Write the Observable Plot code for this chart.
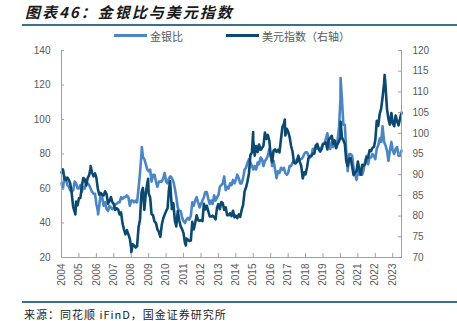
<!DOCTYPE html>
<html><head><meta charset="utf-8">
<script src="https://cdn.jsdelivr.net/npm/d3@7"></script>
<script src="https://cdn.jsdelivr.net/npm/@observablehq/plot@0.6"></script>
<style>
body{margin:0;background:#fff;}
#wrap{position:relative;width:457px;height:321px;overflow:hidden;}
#title{position:absolute;left:25px;top:3px;font:italic bold 15px "Noto Sans CJK SC";line-height:17px;letter-spacing:2px;color:#1a1a1a;white-space:nowrap;}
.hline{position:absolute;left:22px;right:0;height:2px;background:#3b6f8e;}
.leg{position:absolute;top:29px;font:11px "Noto Sans CJK SC";line-height:14px;color:#595959;white-space:nowrap;}
.sw{position:absolute;height:3px;top:34px;}
#src{position:absolute;left:24px;top:307px;font:11px "Noto Sans CJK SC";line-height:14px;letter-spacing:1px;color:#222;white-space:nowrap;}
svg{position:absolute;left:0;top:0;}
</style></head>
<body><div id="wrap">
<div id="title">图表46：金银比与美元指数</div>
<div class="hline" style="top:24px"></div>
<div class="sw" style="left:114px;width:33px;background:#4a85c5"></div>
<div class="leg" style="left:150px">金银比</div>
<div class="sw" style="left:226px;width:33px;background:#0b4970"></div>
<div class="leg" style="left:262px">美元指数（右轴）</div>
<div class="hline" style="top:301px"></div>
<div id="src">来源：同花顺 iFinD，国金证券研究所</div>
</div>
<script>
// monthly values, Mar 2004 .. Sep 2023
const goldSilver = [
63,60,67,66,62,61,59,58,59,64,
63,60,60,62,58,61,60,63,63,62,60,58,
57,57,51,47,50,57,55,50,52,48,47,50,
49,48,49,51,51,52,52,55,54,55,55,56,
55,50,53,53,52,53,52,60,69,80,78,77,
74,71,70,71,64,68,68,64,61,64,64,64,
66,69,64,63,66,67,66,64,60,55,49,47,
47,43,41,40,42,43,42,44,52,50,53,55,
52,49,51,53,55,58,58,54,51,53,51,56,
53,55,56,61,62,63,67,59,61,60,63,62,
65,63,65,68,66,63,63,66,71,72,75,77,
75,73,71,73,71,75,74,78,77,73,76,77,
79,83,80,73,76,71,66,70,69,72,71,72,
69,68,69,73,73,75,76,75,77,76,77,77,
78,80,81,81,79,78,79,83,83,83,86,83,
82,84,86,86,89,92,86,83,87,84,86,85,
88,96,112,112,97,97,81,70,80,80,79,72,
69,65,70,68,68,68,71,76,79,74,78,78,
80,79,77,83,85,89,87,96,87,85,82,76,
82,87,82,80,83,84,79,79,82
];
const dollarIndex = [
90.5,91.3,89.0,88.7,89.3,88.8,87.8,85.5,82.2,81.0,
83.5,82.6,84.3,84.4,87.2,89.2,88.9,87.4,89.2,89.9,91.6,90.5,
89.6,90.3,89.3,86.6,85.2,85.6,85.1,85.0,86.0,85.3,83.0,83.6,
84.6,83.3,82.9,81.5,81.9,81.6,80.4,80.9,78.2,76.8,75.6,76.6,
75.6,74.5,72.2,73.2,72.9,72.4,72.7,77.3,79.2,85.6,86.8,81.5,
85.6,88.0,85.5,84.5,80.5,80.2,78.7,78.3,76.8,76.2,75.0,77.9,
79.5,80.4,81.2,81.9,86.5,87.0,81.7,83.1,78.9,77.5,81.2,79.0,
77.5,76.8,75.9,73.5,74.6,74.3,74.0,74.1,78.6,76.8,78.4,80.2,
79.0,78.9,79.0,78.8,83.0,81.6,82.5,81.2,79.9,79.9,80.1,79.8,
79.2,82.1,82.9,81.7,83.4,83.1,81.5,82.1,80.2,80.2,80.7,80.0,
81.3,79.7,80.1,79.5,80.4,79.8,81.5,82.7,86.0,86.9,88.4,90.3,
94.8,95.3,98.4,94.6,96.9,95.5,97.3,96.0,96.4,97.0,100.2,98.6,
99.6,98.2,94.6,93.1,95.9,96.1,95.5,96.0,95.4,98.5,101.5,102.2,
99.5,101.1,100.4,99.1,97.0,95.6,92.9,92.7,93.1,94.6,93.1,92.1,
89.1,90.6,90.1,91.8,94.0,94.5,94.5,95.1,95.1,97.1,97.3,96.2,
95.6,96.2,97.3,97.5,97.8,96.1,98.5,98.9,99.4,97.4,98.3,96.4,
97.4,98.1,99.0,99.0,98.3,97.4,93.3,92.1,93.9,94.0,91.9,89.9,
90.6,90.9,93.2,91.3,90.0,92.4,92.2,92.6,94.2,94.1,95.9,95.7,
96.5,96.7,98.3,103.0,101.8,104.7,105.9,108.7,112.1,111.5,105.9,103.5,
102.1,104.9,102.5,101.7,104.3,102.9,101.9,103.6,105.0
];
// daily extremes
const gsPeakDates = ["2006-04-20","2008-10-24","2020-03-18"];
const gsPeaks = [45,84,124];
const dxPeakDates = ["2004-12-30","2005-11-15","2008-03-17","2009-03-04","2010-06-07","2011-05-04","2015-03-13","2017-01-03","2020-03-19","2022-09-27"];
const dxPeaks = [80.4,92.1,71.3,89.0,88.4,72.9,100.3,103.3,102.8,114.1];
const leftTicks = [20,40,60,80,100,120,140];
const rightTicks = [70,75,80,85,90,95,100,105,110,115,120];
const yearLabels = d3.range(2004, 2024);

const LIGHT = "#4a85c5", DARK = "#0b4970", AX = "#a0a0a0";
const months = d3.utcMonth.range(new Date(Date.UTC(2004,2,1)), new Date(Date.UTC(2023,9,1))).map(d => d3.utcDay.offset(d, 14));
const byDate = (a,b) => a.date - b.date;
const gs = months.map((d,i)=>({date:d, v:goldSilver[i]}))
  .concat(gsPeakDates.map((d,i)=>({date:new Date(d), v:gsPeaks[i]}))).filter(d=>d.v!=null).sort(byDate);
const dx = months.map((d,i)=>({date:d, v:dollarIndex[i]}))
  .concat(dxPeakDates.map((d,i)=>({date:new Date(d), v:dxPeaks[i]}))).filter(d=>d.v!=null).sort(byDate);
const toLeft = v => 20 + (v - 70) * 2.4;
const x0 = new Date(Date.UTC(2004,2,15)), x1 = new Date(Date.UTC(2023,8,15));
const tickDates = yearLabels.map(y => new Date(Date.UTC(y,2,15)));

const chart = Plot.plot({
  width: 457, height: 321,
  marginTop: 50, marginBottom: 64, marginLeft: 61, marginRight: 56,
  x: {type: "utc", domain: [x0, x1]},
  y: {domain: [20, 140]},
  style: {fontFamily: "'Liberation Sans', Arial, sans-serif", fontSize: "10px", color: "#595959", background: "transparent"},
  marks: [
    Plot.line(gs, {x: "date", y: "v", stroke: LIGHT, strokeWidth: 2.6}),
    Plot.line(dx, {x: "date", y: d => toLeft(d.v), stroke: DARK, strokeWidth: 2.6}),
    Plot.ruleX([x0, x1], {y1: 20, y2: 140, stroke: AX}),
    Plot.ruleY([20], {stroke: AX}),
    Plot.axisY(leftTicks, {anchor: "left", tickSize: -3, tickPadding: 14, stroke: AX, label: null, tickFormat: d => String(d)}),
    Plot.axisY(rightTicks.map(toLeft), {anchor: "right", tickSize: -4, tickPadding: 15, stroke: AX, label: null, tickFormat: d => String(Math.round(70 + (d - 20) / 2.4))}),
    Plot.axisX(tickDates, {anchor: "bottom", tickSize: -4, tickPadding: 10, tickRotate: -90, stroke: AX, label: null, tickFormat: d => String(d.getUTCFullYear())})
  ]
});
document.getElementById("wrap").appendChild(chart);
</script>
</body></html>
